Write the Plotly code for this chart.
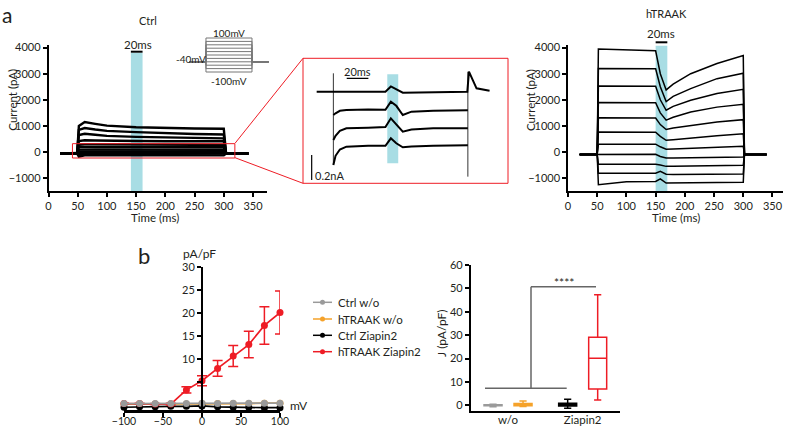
import plotly.graph_objects as go

W, H = 786, 428
FONT = "Lato"
TXT = "#231f20"
CYAN = "#a8dde4"
RED = "#ee1c25"
ORANGE = "#f5a22a"
GRAY = "#9a9a9a"

# ---------------- DATA ----------------
# Panel a, Ctrl currents (pA) sampled at CTRL_TIME_MS
CTRL_TIME_MS = [20, 49, 52, 62, 80, 100, 150, 200, 250, 300, 304, 342]
CTRL_CURRENTS = [
    [-60, -60, 1000, 1150, 1080, 1010, 950, 920, 900, 890, -60, -60],
    [-60, -60, 850, 920, 860, 810, 760, 720, 690, 670, -60, -60],
    [-60, -60, 650, 700, 660, 620, 580, 555, 535, 525, -60, -60],
    [-60, -60, 420, 450, 440, 430, 420, 415, 410, 410, -60, -60],
    [-60, -60, 280, 300, 295, 290, 285, 280, 278, 275, -60, -60],
    [-60, -60, 190, 200, 198, 195, 190, 188, 185, 182, -60, -60],
    [-60, -60, 90, 100, 98, 95, 92, 90, 88, 85, -60, -60],
    [-60, -60, 20, 20, 20, 20, 20, 20, 20, 20, -60, -60],
    [-60, -60, -40, -30, -30, -30, -30, -30, -30, -30, -60, -60],
    [-60, -60, -110, -80, -80, -80, -80, -80, -80, -80, -60, -60],
    [-60, -60, -180, -130, -130, -130, -130, -130, -130, -130, -60, -60],
]
CTRL_LIGHT_MS = [141, 161]

# Panel a, hTRAAK currents (pA) sampled at HTRAAK_TIME_MS
HTRAAK_TIME_MS = [20, 50, 52, 100, 150, 158, 168, 180, 210, 255, 300, 302, 340]
HTRAAK_CURRENTS = [
    [-100, -100, 3950, 3930, 3880, 3000, 2380, 2600, 3000, 3390, 3700, -100, -100],
    [-100, -100, 3200, 3200, 3190, 2500, 1930, 2130, 2430, 2810, 3020, -100, -100],
    [-100, -100, 2530, 2530, 2520, 2000, 1600, 1750, 1980, 2240, 2400, -100, -100],
    [-100, -100, 1900, 1900, 1890, 1500, 1220, 1330, 1530, 1720, 1830, -100, -100],
    [-100, -100, 1310, 1310, 1300, 1050, 860, 920, 1020, 1150, 1240, -100, -100],
    [-100, -100, 770, 770, 760, 600, 450, 470, 520, 620, 700, -100, -100],
    [-100, -100, 300, 300, 300, 200, 110, 120, 150, 190, 220, -100, -100],
    [-100, -100, -90, -90, -90, -170, -230, -230, -220, -200, -190, -100, -100],
    [-100, -100, -470, -470, -470, -500, -550, -550, -540, -520, -510, -100, -100],
    [-100, -100, -810, -810, -810, -740, -850, -860, -850, -840, -840, -100, -100],
    [-100, -100, -1250, -1140, -1130, -1030, -1190, -1190, -1180, -1170, -1160, -100, -100],
]
HTRAAK_LIGHT_MS = [150, 170]

# Zoomed inset (Ctrl), time in ms, current in pA (relative)
INSET_HOLD_T = [12.6, 76, 81, 86, 92, 151.5, 153, 160, 172]
INSET_HOLD = [733, 733, 775, 750, 725, 733, 893, 760, 740]
INSET_STEP_T = [28, 30, 34, 40, 60, 76, 81, 86, 92, 100, 120, 140, 152]
INSET_STEPS = [
    [546, 560, 580, 586, 590, 588, 653, 620, 546, 573, 580, 585, 585],
    [346, 380, 420, 440, 445, 450, 520, 470, 413, 430, 440, 440, 440],
    [146, 220, 270, 293, 300, 300, 360, 320, 288, 295, 300, 305, 305],
]
INSET_ON_T, INSET_ON = 28, [880, 146]
INSET_OFF_T, INSET_OFF = 152, [893, 53]
INSET_LIGHT_MS = [77.7, 87.8]

# Voltage protocol
PROTO_T = [-42, 50, 300, 392]
PROTO_HOLD_MV = -40
PROTO_STEPS_MV = [-100, -80, -60, -40, -20, 0, 20, 40, 60, 80, 100]

# Panel b, I-V (pA/pF)
IV_MV = [-100, -80, -60, -40, -20, 0, 20, 40, 60, 80, 100]
IV_CTRL_WO = [0.2, 0.2, 0.2, 0.2, 0.2, 0.3, 0.2, 0.3, 0.3, 0.3, 0.3]
IV_HTRAAK_WO = [0.1, 0.1, 0.1, 0.1, 0.1, 0.2, 0.2, 0.2, 0.2, 0.3, 0.3]
IV_CTRL_ZIA = [-0.6, -0.5, -0.5, -0.4, -0.4, -0.3, -0.5, -0.6, -0.6, -0.7, -0.7]
IV_HTRAAK_ZIA = [0.2, 0.2, 0.1, 0.1, 3.2, 5.2, 7.9, 10.6, 13.1, 17.3, 20.1]
IV_HTRAAK_ZIA_ERR = [0.1, 0.1, 0.1, 0.2, 0.7, 1.1, 1.7, 2.3, 2.9, 4.1, 4.7]
LEGEND_NAMES = ["Ctrl w/o", "hTRAAK w/o", "Ctrl Ziapin2", "hTRAAK Ziapin2"]

# Panel b, box summary J (pA/pF)
BOX_CAT = ["w/o", "w/o", "Ziapin2", "Ziapin2"]
BOX_GROUP = ["Ctrl", "hTRAAK", "Ctrl", "hTRAAK"]
BOX_LOW = [-0.6, -0.5, -1.3, 2.3]
BOX_Q1 = [-0.2, -0.2, -0.3, 7.0]
BOX_MED = [0.0, 0.3, 0.3, 20.1]
BOX_Q3 = [0.2, 0.8, 0.9, 29.1]
BOX_HIGH = [0.5, 1.8, 2.6, 47.3]
SIG_LOW, SIG_HIGH = 7.3, 50.7

# ---------------- LAYOUT GEOMETRY (pixels) ----------------
A_Y = (45, 191); A_YR = [-1494, 4100]
AL_X = (48.5, 267); AL_XR = [0, 374]
AR_X = (568, 783); AR_XR = [0, 368]
IN_X = (303, 508); IN_XR = [0, 189]
IN_Y = (58.3, 183.3); IN_YR = [0, 1000]
PR_X = (180, 275); PR_XR = [-91, 425]
PR_Y = (34, 76); PR_YR = [-123.5, 123.5]
IV_X = (124, 280); IV_XR = [-100, 100]
IV_Y = (267.3, 410); IV_YR = [-1.2, 30]
BX_X = (470.7, 620)
BX_Y = (265, 410.7); BX_YR = [-2.3, 60]
LEG_ROWS = [302.3, 319, 335.3, 351.7]


def dx(p):
    return [p[0] / W, p[1] / W]


def dy(p):
    return [1 - p[1] / H, 1 - p[0] / H]


def px_x(v, dom, rng):
    return dom[0] + (v - rng[0]) / (rng[1] - rng[0]) * (dom[1] - dom[0])


def px_y(v, dom, rng):
    return dom[1] - (v - rng[0]) / (rng[1] - rng[0]) * (dom[1] - dom[0])


def PX(x):
    return x / W


def PY(y):
    return 1 - y / H


fig = go.Figure()

# panel a left
for vals in CTRL_CURRENTS:
    fig.add_trace(go.Scatter(x=CTRL_TIME_MS, y=vals, mode="lines", xaxis="x", yaxis="y",
                             line=dict(color="black", width=2.4), showlegend=False, hoverinfo="skip"))
# panel a right
for vals in HTRAAK_CURRENTS:
    fig.add_trace(go.Scatter(x=HTRAAK_TIME_MS, y=vals, mode="lines", xaxis="x2", yaxis="y2",
                             line=dict(color="black", width=1.5), showlegend=False, hoverinfo="skip"))
# inset
fig.add_trace(go.Scatter(x=INSET_HOLD_T, y=INSET_HOLD, mode="lines", xaxis="x5", yaxis="y5",
                         line=dict(color="black", width=2), showlegend=False, hoverinfo="skip"))
for vals in INSET_STEPS:
    fig.add_trace(go.Scatter(x=INSET_STEP_T, y=vals, mode="lines", xaxis="x5", yaxis="y5",
                             line=dict(color="black", width=2), showlegend=False, hoverinfo="skip"))
for t, ys in ((INSET_ON_T, INSET_ON), (INSET_OFF_T, INSET_OFF)):
    fig.add_trace(go.Scatter(x=[t, t], y=ys, mode="lines", xaxis="x5", yaxis="y5",
                             line=dict(color="black", width=0.8), showlegend=False, hoverinfo="skip"))
# protocol
for v in PROTO_STEPS_MV:
    fig.add_trace(go.Scatter(x=[PROTO_T[0], PROTO_T[1], PROTO_T[1], PROTO_T[2], PROTO_T[2], PROTO_T[3]],
                             y=[PROTO_HOLD_MV, PROTO_HOLD_MV, v, v, PROTO_HOLD_MV, PROTO_HOLD_MV],
                             mode="lines", xaxis="x6", yaxis="y6", line=dict(color="#777", width=1),
                             showlegend=False, hoverinfo="skip"))

# panel b I-V (gray drawn last, on top)
mk = dict(size=7)
iv_series = [
    (IV_HTRAAK_WO, ORANGE, None),
    (IV_CTRL_ZIA, "black", None),
    (IV_HTRAAK_ZIA, RED, IV_HTRAAK_ZIA_ERR),
    (IV_CTRL_WO, GRAY, None),
]
for ys, col, err in iv_series:
    kw = {}
    if err is not None:
        kw["error_y"] = dict(type="data", array=err, color=col, thickness=1.5, width=5)
    fig.add_trace(go.Scatter(x=IV_MV, y=ys, mode="lines+markers", xaxis="x3", yaxis="y3",
                             line=dict(color=col, width=1.7), marker=dict(color=col, **mk),
                             cliponaxis=False, showlegend=False, hoverinfo="skip", **kw))

# panel b boxes
BOX_COLORS = [GRAY, ORANGE, "black", RED]
for i in range(4):
    fig.add_trace(go.Box(x=[BOX_CAT[i]], q1=[BOX_Q1[i]], median=[BOX_MED[i]], q3=[BOX_Q3[i]],
                         lowerfence=[BOX_LOW[i]], upperfence=[BOX_HIGH[i]], name=LEGEND_NAMES[i],
                         offsetgroup=BOX_GROUP[i], xaxis="x4", yaxis="y4",
                         line=dict(color=BOX_COLORS[i], width=1.5), fillcolor="rgba(255,255,255,0)",
                         whiskerwidth=0.4, showlegend=False, hoverinfo="skip"))

AX = dict(showline=True, linecolor="black", linewidth=1.5, ticks="outside", ticklen=4, tickwidth=1.5,
          tickcolor="black", showgrid=False, zeroline=False, automargin=False,
          tickfont=dict(family=FONT, size=11, color=TXT))
HID = dict(visible=False, showgrid=False, zeroline=False, automargin=False)

layout = dict(
    width=W, height=H, margin=dict(l=0, r=0, t=0, b=0, autoexpand=False),
    paper_bgcolor="white", plot_bgcolor="rgba(0,0,0,0)",
    font=dict(family=FONT, color=TXT, size=11),
    boxmode="group", boxgap=0.196, boxgroupgap=0.4, showlegend=False,
    xaxis=dict(AX, domain=dx(AL_X), range=AL_XR, anchor="y", tickvals=list(range(0, 351, 50))),
    yaxis=dict(AX, domain=dy(A_Y), range=A_YR, anchor="x", tickvals=list(range(-1000, 4001, 1000))),
    xaxis2=dict(AX, domain=dx(AR_X), range=AR_XR, anchor="y2", tickvals=list(range(0, 351, 50))),
    yaxis2=dict(AX, domain=dy(A_Y), range=A_YR, anchor="x2", tickvals=list(range(-1000, 4001, 1000))),
    xaxis3=dict(AX, domain=dx(IV_X), range=IV_XR, anchor="y3", linewidth=2.5, ticklabelstandoff=-4,
                tickvals=[-100, -50, 0, 50, 100], tickfont=dict(family=FONT, size=10.5, color=TXT)),
    yaxis3=dict(AX, domain=dy(IV_Y), range=IV_YR, anchor="free", position=px_x(0, IV_X, IV_XR) / W,
                linewidth=2, tickvals=[5, 10, 15, 20, 25, 30], ticktext=["", "10", "15", "20", "25", "30"]),
    xaxis4=dict(AX, domain=dx(BX_X), anchor="y4", linewidth=2, ticks="", type="category",
                categoryorder="array", categoryarray=["w/o", "Ziapin2"], range=[-0.5, 1.5],
                ticklabelstandoff=-3, tickfont=dict(family=FONT, size=11.5, color=TXT)),
    yaxis4=dict(AX, domain=dy(BX_Y), range=BX_YR, anchor="x4", tickvals=list(range(0, 61, 10))),
    xaxis5=dict(HID, domain=dx(IN_X), range=IN_XR, anchor="y5"),
    yaxis5=dict(HID, domain=dy(IN_Y), range=IN_YR, anchor="x5"),
    xaxis6=dict(HID, domain=dx(PR_X), range=PR_XR, anchor="y6"),
    yaxis6=dict(HID, domain=dy(PR_Y), range=PR_YR, anchor="x6"),
)
fig.update_layout(**layout)

shapes = []
# light stimuli
shapes.append(dict(type="rect", xref="x", yref="y", x0=CTRL_LIGHT_MS[0], x1=CTRL_LIGHT_MS[1],
                   y0=A_YR[0], y1=3800, fillcolor=CYAN, line=dict(width=0), layer="below"))
shapes.append(dict(type="rect", xref="x2", yref="y2", x0=HTRAAK_LIGHT_MS[0], x1=HTRAAK_LIGHT_MS[1],
                   y0=A_YR[0], y1=4076, fillcolor=CYAN, line=dict(width=0), layer="below"))
shapes.append(dict(type="rect", xref="x5", yref="y5", x0=INSET_LIGHT_MS[0], x1=INSET_LIGHT_MS[1],
                   y0=160, y1=872, fillcolor=CYAN, line=dict(width=0), layer="below"))
# 20 ms bars
for (a, b), dom, rng, ypix in ((CTRL_LIGHT_MS, AL_X, AL_XR, 51.7), (HTRAAK_LIGHT_MS, AR_X, AR_XR, 42.3)):
    shapes.append(dict(type="line", xref="paper", yref="paper", x0=PX(px_x(a, dom, rng)),
                       x1=PX(px_x(b, dom, rng)), y0=PY(ypix), y1=PY(ypix), line=dict(color="black", width=2)))
# zoom rectangle + connectors + inset border
shapes.append(dict(type="rect", xref="x", yref="y", x0=41, x1=319, y0=-230, y1=320,
                   line=dict(color=RED, width=1)))
shapes.append(dict(type="line", xref="paper", yref="paper", x0=PX(235), y0=PY(143.3), x1=PX(303), y1=PY(58.3),
                   line=dict(color=RED, width=1)))
shapes.append(dict(type="line", xref="paper", yref="paper", x0=PX(235), y0=PY(157.7), x1=PX(303), y1=PY(183.3),
                   line=dict(color=RED, width=1)))
shapes.append(dict(type="rect", xref="paper", yref="paper", x0=PX(303), y0=PY(183.3), x1=PX(508), y1=PY(58.3),
                   line=dict(color=RED, width=1)))
# inset scale bars
shapes.append(dict(type="line", xref="x5", yref="y5", x0=40.3, x1=60.3, y0=840, y1=840,
                   line=dict(color="black", width=1.2)))
shapes.append(dict(type="line", xref="x5", yref="y5", x0=8, x1=8, y0=26, y1=226,
                   line=dict(color="black", width=1.2)))
# significance bracket
yl = px_y(SIG_LOW, BX_Y, BX_YR)
yh = px_y(SIG_HIGH, BX_Y, BX_YR)
brk = dict(color="#666", width=1.5)
shapes.append(dict(type="line", xref="paper", yref="paper", x0=PX(485), x1=PX(566.7), y0=PY(yl), y1=PY(yl), line=brk))
shapes.append(dict(type="line", xref="paper", yref="paper", x0=PX(531), x1=PX(531), y0=PY(yl), y1=PY(yh), line=brk))
shapes.append(dict(type="line", xref="paper", yref="paper", x0=PX(531), x1=PX(596), y0=PY(yh), y1=PY(yh), line=brk))
# legend glyphs (compact, as in the original)
LEG_COLORS = [GRAY, ORANGE, "black", RED]
for yrow, col in zip(LEG_ROWS, LEG_COLORS):
    shapes.append(dict(type="line", xref="paper", yref="paper", x0=PX(313), x1=PX(332), y0=PY(yrow), y1=PY(yrow),
                       line=dict(color=col, width=1.5)))
    shapes.append(dict(type="circle", xref="paper", yref="paper", x0=PX(320), x1=PX(325),
                       y0=PY(yrow + 2.5), y1=PY(yrow - 2.5), fillcolor=col, line=dict(color=col, width=0)))
fig.update_layout(shapes=shapes)


def ann(text, x, y, size=11, angle=0, xanchor="center", yanchor="middle", **kw):
    return dict(text=text, x=PX(x), y=PY(y), xref="paper", yref="paper", showarrow=False,
                xanchor=xanchor, yanchor=yanchor, textangle=angle,
                font=dict(family=FONT, size=size, color=TXT), **kw)


anns = [
    ann("a", 0, 0, size=21, xanchor="left", yanchor="top"),
    ann("b", 143.5, 255, size=22),
    ann("Ctrl", 147.5, 20),
    ann("hTRAAK", 666, 13),
    ann("20ms", 138, 44, size=11.5),
    ann("20ms", 661, 33, size=11.5),
    ann("Current (pA)", 11.7, 100, size=11.5, angle=-90),
    ann("Current (pA)", 530, 100, size=11.5, angle=-90),
    ann("Time (ms)", 155, 217, size=11.5),
    ann("Time (ms)", 675.5, 217, size=11.5),
    ann("100mV", 229, 33, size=10),
    ann("-40mV", 191, 59, size=10),
    ann("-100mV", 229, 81, size=10),
    ann("20ms", 357, 71.7, size=11),
    ann("0.2nA", 313, 175, size=11, xanchor="left"),
    ann("pA/pF", 199, 253.3, size=12),
    ann("mV", 298.7, 405, size=12),
    ann("J (pA/pF)", 441, 333, size=12, angle=-90),
    ann("****", 564, 282, size=12),
]
for yrow, name in zip(LEG_ROWS, LEGEND_NAMES):
    anns.append(ann(name, 336, yrow, size=11.5, xanchor="left"))
fig.update_layout(annotations=anns)

fig.write_html("out.html", config={"displayModeBar": False},
               post_script="document.body.style.margin='0';document.body.style.padding='0';")
